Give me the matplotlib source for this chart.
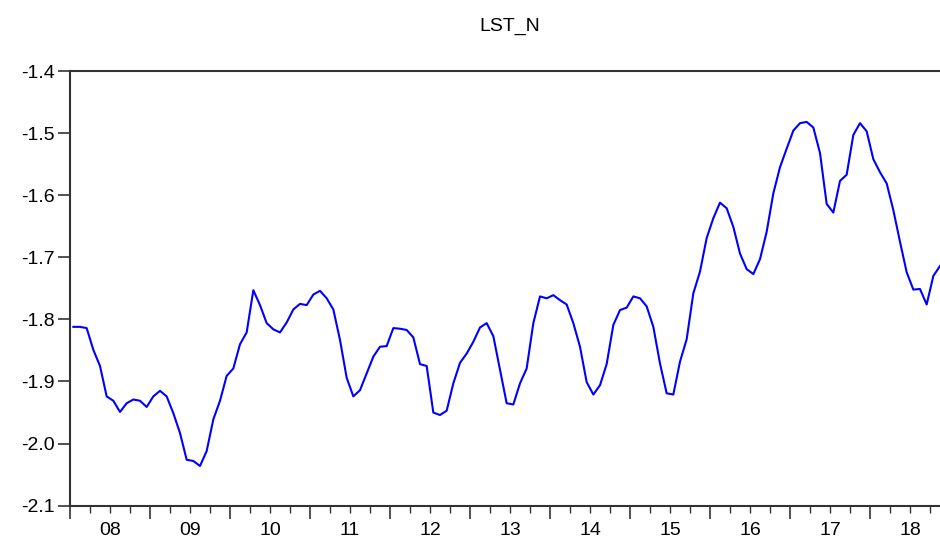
#!/usr/bin/env python3
"""
LST_N monthly series, EViews-style line chart.
"""

import numpy as np
import matplotlib
matplotlib.use("Agg")
import matplotlib.pyplot as plt
import matplotlib.transforms as mtransforms

# monthly values, 2008M01 .. 2018M11
lst_2008 = [-1.812, -1.812, -1.814, -1.849, -1.875, -1.924, -1.931, -1.949, -1.935, -1.929, -1.931, -1.941]
lst_2009 = [-1.924, -1.915, -1.924, -1.951, -1.983, -2.026, -2.028, -2.036, -2.012, -1.961, -1.931, -1.891]
lst_2010 = [-1.879, -1.840, -1.821, -1.753, -1.777, -1.806, -1.816, -1.821, -1.805, -1.784, -1.775, -1.777]
lst_2011 = [-1.760, -1.754, -1.766, -1.784, -1.833, -1.894, -1.924, -1.914, -1.887, -1.860, -1.844, -1.843]
lst_2012 = [-1.814, -1.815, -1.817, -1.829, -1.872, -1.875, -1.950, -1.954, -1.947, -1.903, -1.870, -1.855]
lst_2013 = [-1.836, -1.813, -1.806, -1.827, -1.881, -1.935, -1.937, -1.903, -1.879, -1.806, -1.763, -1.766]
lst_2014 = [-1.761, -1.769, -1.776, -1.806, -1.844, -1.901, -1.921, -1.906, -1.872, -1.809, -1.785, -1.781]
lst_2015 = [-1.763, -1.766, -1.779, -1.812, -1.871, -1.919, -1.921, -1.868, -1.832, -1.758, -1.723, -1.669]
lst_2016 = [-1.637, -1.612, -1.621, -1.651, -1.694, -1.719, -1.727, -1.703, -1.659, -1.597, -1.555, -1.525]
lst_2017 = [-1.496, -1.484, -1.482, -1.491, -1.532, -1.614, -1.628, -1.577, -1.567, -1.503, -1.484, -1.497]
lst_2018 = [-1.542, -1.563, -1.581, -1.624, -1.675, -1.724, -1.752, -1.751, -1.776, -1.730, -1.714]

years = ["08", "09", "10", "11", "12", "13", "14", "15", "16", "17", "18"]
y_ticks = [-2.1, -2.0, -1.9, -1.8, -1.7, -1.6, -1.5, -1.4]

lst_n = np.array(lst_2008 + lst_2009 + lst_2010 + lst_2011 + lst_2012 + lst_2013
                 + lst_2014 + lst_2015 + lst_2016 + lst_2017 + lst_2018)
months = np.arange(len(lst_n))

plt.rcParams['font.family'] = ['Liberation Sans', 'DejaVu Sans']

fig = plt.figure(figsize=(9.4, 5.4), dpi=100)
ax = fig.add_axes([70 / 940, (540 - 505.7) / 540, 870 / 940, 434.7 / 540])

ax.plot(months, lst_n, color='#0000ff', linewidth=1.5)

ax.set_xlim(-0.5, months[-1])
ax.set_ylim(-2.1, -1.4)

# y axis
ax.set_yticks(y_ticks)
ax.set_yticklabels([f"{v:.1f}" for v in y_ticks], fontsize=14)
ax.tick_params(axis='y', direction='out', length=9, width=1.2, color='#333333', pad=2)

# x axis: long ticks at year boundaries, short ticks at quarters, labels mid-year
ax.set_xticks(np.arange(-0.5, len(lst_n), 12))
ax.set_xticks(np.arange(-0.5, len(lst_n), 3), minor=True)
ax.set_xticklabels([])
ax.tick_params(axis='x', which='major', direction='out', length=9, width=1.2, color='#333333')
ax.tick_params(axis='x', which='minor', direction='out', length=5, width=1.0, color='#333333')

trans = mtransforms.blended_transform_factory(ax.transData, ax.transAxes)
for i, yr in enumerate(years):
    ax.text(5.5 + 12 * i, -0.038, yr, transform=trans, ha='center', va='top', fontsize=14)

for side in ['left', 'top', 'bottom']:
    ax.spines[side].set_linewidth(1.5)
    ax.spines[side].set_color('#333333')
ax.spines['right'].set_visible(False)

fig.text(510 / 940, 1 - 26 / 540, "LST_N", ha='center', va='center', fontsize=14)

fig.savefig("out.png", dpi=100)
